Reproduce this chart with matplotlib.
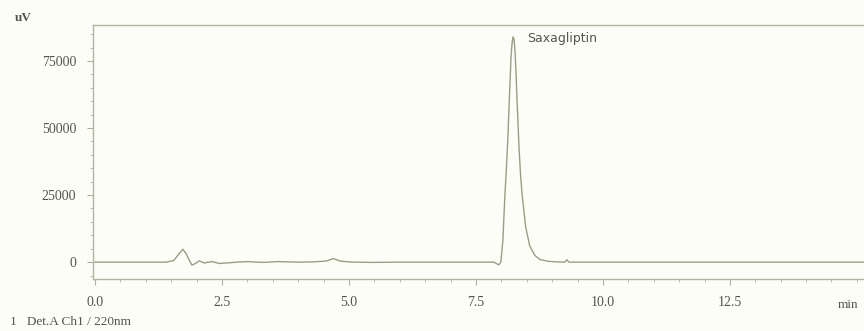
import numpy as np
import matplotlib.pyplot as plt
from matplotlib.ticker import MultipleLocator

# retention time (min) and detector signal (uV)
time_min = [0.0, 0.5, 1.0, 1.4, 1.55, 1.65, 1.73, 1.8, 1.86, 1.91, 1.98, 2.05, 2.15, 2.3,
            2.45, 2.6, 2.8, 3.0, 3.3, 3.6, 4.0, 4.3, 4.55, 4.69, 4.85, 5.1, 5.5, 6.0,
            6.5, 7.0, 7.5, 7.85, 7.95, 7.99, 8.03, 8.07, 8.10, 8.13, 8.16, 8.19, 8.21,
            8.23, 8.25, 8.27, 8.29, 8.31, 8.35, 8.38, 8.41, 8.48, 8.56, 8.66, 8.76,
            8.92, 9.1, 9.25, 9.29, 9.33, 9.6, 10.0, 11.0, 12.0, 13.0, 14.0, 15.2]
signal_uv = [0, 0, 0, 0, 600, 3000, 4800, 3000, 500, -1100, -500, 500, -300, 200,
             -500, -300, 0, 200, -100, 200, 0, 100, 400, 1300, 300, 0, -100, 0,
             0, 0, 0, 0, -1000, 0, 8000, 25000, 35000, 47000, 62000, 76000, 81500,
             84000, 83000, 78500, 70000, 60000, 42000, 32000, 25000, 13000, 6000, 2500, 1000,
             300, 100, 0, 900, 0, 0, 0, 0, 0, 0, 0, 0]

peak_name = 'Saxagliptin'
peak_time = 8.23
peak_height = 84000

y_ticks = [0, 25000, 50000, 75000]
x_ticks = [0.0, 2.5, 5.0, 7.5, 10.0, 12.5]

txt = '#55554f'

fig = plt.figure(figsize=(8.64, 3.31), dpi=100, facecolor='#fdfdf8')
ax = fig.add_axes([0.1076, 0.157, 0.8924, 0.7675])
ax.set_facecolor('#fdfdf8')

ax.plot(time_min, signal_uv, color='#9c9c86', lw=1.0)

ax.set_xlim(-0.04, 15.14)
ax.set_ylim(-6300, 88400)
ax.set_xticks(x_ticks)
ax.set_xticklabels([f'{v:.1f}' for v in x_ticks])
ax.set_yticks(y_ticks)
ax.set_yticklabels([str(v) for v in y_ticks])
ax.xaxis.set_minor_locator(MultipleLocator(0.5))
ax.yaxis.set_minor_locator(MultipleLocator(5000))

for side in ['left', 'bottom', 'top']:
    ax.spines[side].set_color('#b4b4a0')
    ax.spines[side].set_linewidth(1.0)
ax.spines['right'].set_visible(False)

ax.tick_params(which='both', colors='#b0b0a0', labelcolor=txt, direction='out')
ax.tick_params(which='major', length=4, labelsize=10, pad=8)
ax.tick_params(which='minor', length=2)
for lab in ax.get_xticklabels() + ax.get_yticklabels():
    lab.set_family('Liberation Serif')

ax.text(peak_time + 0.27, peak_height - 500, peak_name, fontsize=9, color=txt,
        family='DejaVu Sans', va='center', ha='left')

fig.text(15 / 864, 1 - 18 / 331, 'uV', fontsize=9.5, color=txt, family='Liberation Serif',
         weight='bold', va='center', ha='left')
fig.text(838 / 864, 1 - 305 / 331, 'min', fontsize=9.5, color=txt, family='Liberation Serif',
         va='center', ha='left')
fig.text(10 / 864, 1 - 322 / 331, '1   Det.A Ch1 / 220nm', fontsize=9.5, color=txt,
         family='Liberation Serif', va='center', ha='left')

fig.savefig('out.png', dpi=100, facecolor=fig.get_facecolor())
